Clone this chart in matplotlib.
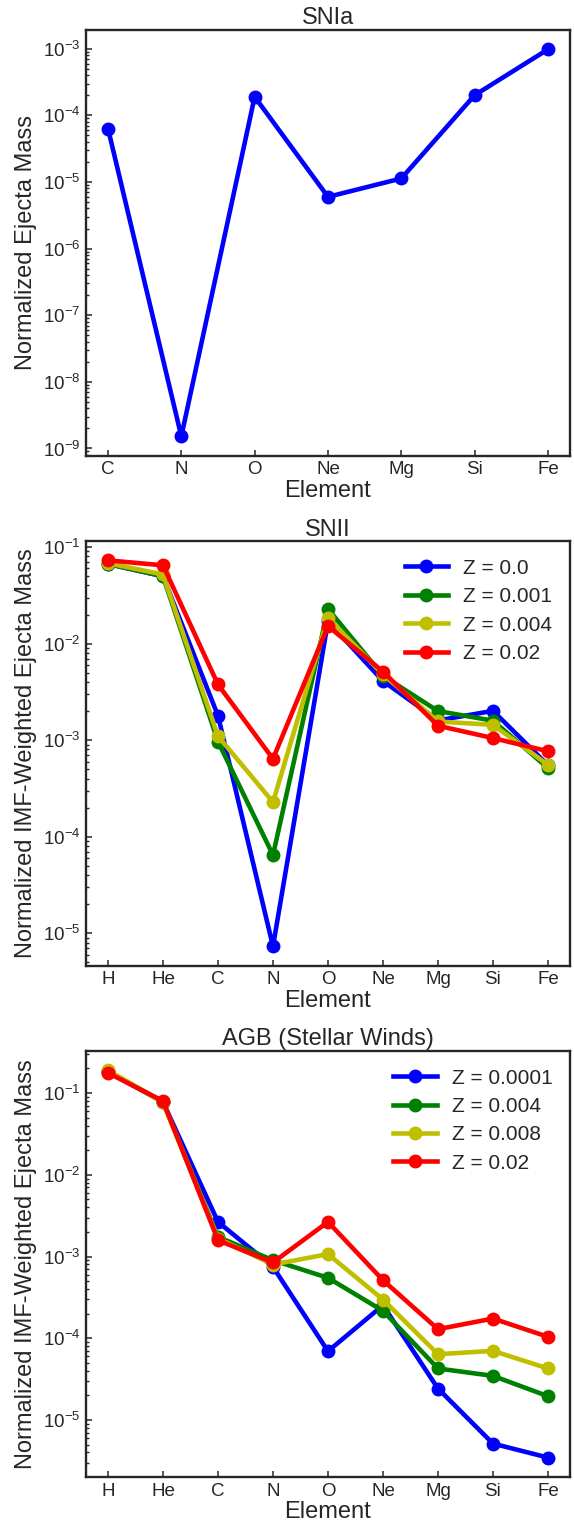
import matplotlib
matplotlib.use("Agg")
import matplotlib.pyplot as plt
import numpy as np
from matplotlib.ticker import LogLocator, NullFormatter

plt.rcParams['font.family'] = ['Liberation Sans', 'DejaVu Sans']
plt.rcParams['mathtext.fontset'] = 'custom'
plt.rcParams['mathtext.rm'] = 'Liberation Sans'
plt.rcParams['mathtext.it'] = 'Liberation Sans:italic'
plt.rcParams['mathtext.bf'] = 'Liberation Sans:bold'
plt.rcParams['axes.unicode_minus'] = False

TEXT = '#262626'

# ---------------- data ----------------
snia_elements = ['C', 'N', 'O', 'Ne', 'Mg', 'Si', 'Fe']
snia_values = [6.35e-5, 1.52e-9, 1.9e-4, 5.98e-6, 1.13e-5, 2.01e-4, 9.8e-4]

snii_elements = ['H', 'He', 'C', 'N', 'O', 'Ne', 'Mg', 'Si', 'Fe']
snii_labels = ['Z = 0.0', 'Z = 0.001', 'Z = 0.004', 'Z = 0.02']
snii_z0 = [0.0668, 0.0498, 1.79e-3, 7.3e-6, 0.0170, 4.1e-3, 1.6e-3, 2.01e-3, 5.5e-4]
snii_z001 = [0.0668, 0.0500, 9.66e-4, 6.45e-5, 0.0229, 4.64e-3, 2.0e-3, 1.59e-3, 5.13e-4]
snii_z004 = [0.0680, 0.0520, 1.10e-3, 2.28e-4, 0.0185, 4.8e-3, 1.56e-3, 1.44e-3, 5.55e-4]
snii_z02 = [0.0728, 0.0647, 3.77e-3, 6.40e-4, 0.0152, 5.13e-3, 1.41e-3, 1.05e-3, 7.67e-4]

agb_elements = ['H', 'He', 'C', 'N', 'O', 'Ne', 'Mg', 'Si', 'Fe']
agb_labels = ['Z = 0.0001', 'Z = 0.004', 'Z = 0.008', 'Z = 0.02']
agb_z0001 = [0.182, 0.078, 2.65e-3, 7.46e-4, 6.93e-5, 2.53e-4, 2.42e-5, 5.13e-6, 3.46e-6]
agb_z004 = [0.186, 0.078, 1.74e-3, 9.0e-4, 5.48e-4, 2.16e-4, 4.26e-5, 3.46e-5, 1.95e-5]
agb_z008 = [0.190, 0.077, 1.66e-3, 7.98e-4, 1.07e-3, 2.97e-4, 6.37e-5, 7.0e-5, 4.26e-5]
agb_z02 = [0.177, 0.0798, 1.58e-3, 8.45e-4, 2.65e-3, 5.13e-4, 1.29e-4, 1.74e-4, 1.04e-4]

colors = ['#0000ff', '#008000', '#bfbf00', '#ff0000']

fig = plt.figure(figsize=(5.74, 15.22), dpi=100)
left, width = 0.1498, 0.8432
ax1 = fig.add_axes([left, 0.7006, width, 0.2797])
ax2 = fig.add_axes([left, 0.3655, width, 0.2790])
ax3 = fig.add_axes([left, 0.0296, width, 0.2799])

LW = 3.3
MS = 9


def style(ax, elements, ylabel, title):
    ax.set_yscale('log')
    ax.set_xticks(range(len(elements)))
    ax.set_xticklabels(elements)
    ax.yaxis.set_major_locator(LogLocator(base=10, numticks=20))
    ax.yaxis.set_minor_locator(LogLocator(base=10, subs=np.arange(2, 10), numticks=20))
    ax.yaxis.set_minor_formatter(NullFormatter())
    ax.tick_params(axis='both', which='major', direction='in', length=4, width=1.1,
                   labelsize=13.5, colors=TEXT, pad=4)
    ax.tick_params(axis='y', which='minor', direction='in', length=2, width=1.0, colors=TEXT)
    ax.tick_params(axis='x', which='minor', bottom=False)
    ax.tick_params(top=False, right=False)
    for s in ax.spines.values():
        s.set_linewidth(1.7)
        s.set_color(TEXT)
    ax.set_xlabel('Element', fontsize=17, color=TEXT, labelpad=1)
    ax.set_ylabel(ylabel, fontsize=17, color=TEXT, labelpad=4)
    ax.set_title(title, fontsize=17, color=TEXT, pad=4)


ax1.plot(range(len(snia_elements)), snia_values, '-o', color=colors[0], lw=LW, ms=MS)
style(ax1, snia_elements, 'Normalized Ejecta Mass', 'SNIa')

snii_series = [snii_z0, snii_z001, snii_z004, snii_z02]
for vals, c, lab in zip(snii_series, colors, snii_labels):
    ax2.plot(range(len(snii_elements)), vals, '-o', color=c, lw=LW, ms=MS, label=lab)
style(ax2, snii_elements, 'Normalized IMF-Weighted Ejecta Mass', 'SNII')

agb_series = [agb_z0001, agb_z004, agb_z008, agb_z02]
for vals, c, lab in zip(agb_series, colors, agb_labels):
    ax3.plot(range(len(agb_elements)), vals, '-o', color=c, lw=LW, ms=MS, label=lab)
style(ax3, agb_elements, 'Normalized IMF-Weighted Ejecta Mass', 'AGB (Stellar Winds)')

for ax in (ax2, ax3):
    leg = ax.legend(loc='upper right', frameon=False, fontsize=15, handlelength=2.1,
                    labelspacing=0.45, handletextpad=0.72, borderaxespad=0.45)
    for t in leg.get_texts():
        t.set_color(TEXT)

fig.savefig('out.png', dpi=100)
